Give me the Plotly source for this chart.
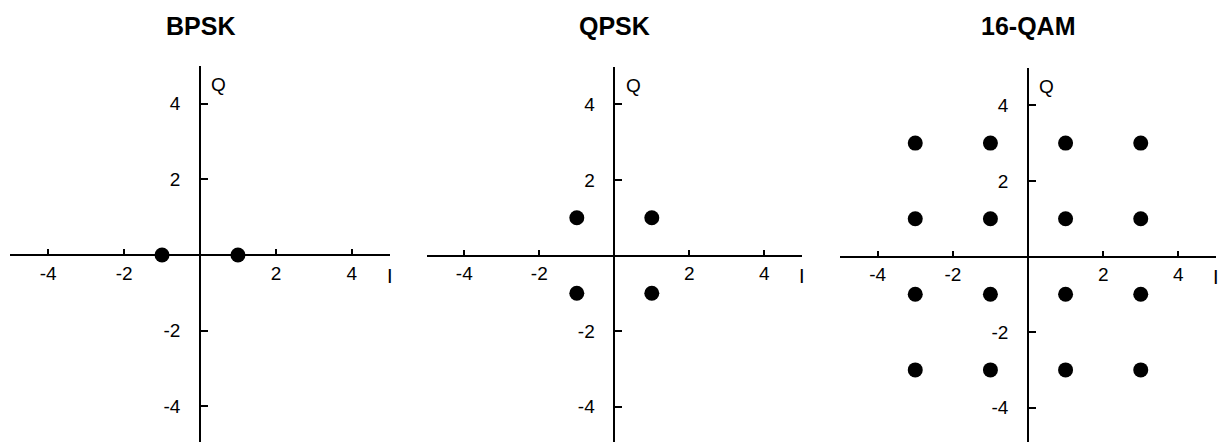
import plotly.graph_objects as go

# Constellation points (in-phase I, quadrature Q)
bpsk_i = [-1, 1]
bpsk_q = [0, 0]

qpsk_i = [-1, 1, -1, 1]
qpsk_q = [1, 1, -1, -1]

qam16_i = [-3, -1, 1, 3, -3, -1, 1, 3, -3, -1, 1, 3, -3, -1, 1, 3]
qam16_q = [3, 3, 3, 3, 1, 1, 1, 1, -1, -1, -1, -1, -3, -3, -3, -3]

titles = ["BPSK", "QPSK", "16-QAM"]
tick_vals = [-4, -2, 2, 4]
tick_text = ["-4", "-2", "2", "4"]

W, H = 1219, 442
UNIT_Y = 37.8

# Pixel layout of each panel: x of the Q axis, px per unit on I, y of the I axis
panels = [
    dict(cx=200.0, ux=37.96, cy=255.0, i=bpsk_i, q=bpsk_q),
    dict(cx=614.3, ux=37.5, cy=255.5, i=qpsk_i, q=qpsk_q),
    dict(cx=1028.0, ux=37.58, cy=256.5, i=qam16_i, q=qam16_q),
]

FONT = "Liberation Sans, Arial, sans-serif"

fig = go.Figure()
annotations = []
axes = {}

for k, (p, title) in enumerate(zip(panels, titles), start=1):
    xname = "xaxis" if k == 1 else f"xaxis{k}"
    yname = "yaxis" if k == 1 else f"yaxis{k}"
    xref = "x" if k == 1 else f"x{k}"
    yref = "y" if k == 1 else f"y{k}"

    x0 = (p["cx"] - 5 * p["ux"]) / W
    x1 = (p["cx"] + 5 * p["ux"]) / W
    top_px = p["cy"] - 5 * UNIT_Y
    y_bottom = -(H - p["cy"]) / UNIT_Y

    fig.add_trace(go.Scatter(
        x=p["i"], y=p["q"], mode="markers",
        marker=dict(size=15, color="black"),
        xaxis=xref, yaxis=yref, cliponaxis=False, hoverinfo="skip",
    ))

    # I axis drawn through Q = 0, ticks pointing up, labels below
    axes[xname] = go.layout.XAxis(
        domain=[x0, min(x1, 1.0)], range=[-5, 5],
        anchor="free", position=1 - p["cy"] / H,
        showline=True, linecolor="black", linewidth=2,
        showgrid=False, zeroline=False,
        ticks="inside", ticklen=5, tickwidth=1.5, tickcolor="black",
        tickmode="array", tickvals=tick_vals, ticktext=tick_text,
        tickfont=dict(size=19, family=FONT, color="black"),
        ticklabelstandoff=1,
        fixedrange=True,
    )
    # Q axis drawn through I = 0, ticks pointing right, labels on the left
    axes[yname] = go.layout.YAxis(
        domain=[0, 1 - top_px / H], range=[y_bottom, 5],
        anchor="free", position=p["cx"] / W,
        showline=True, linecolor="black", linewidth=1.5,
        showgrid=False, zeroline=False,
        ticks="inside", ticklen=7, tickwidth=1.5, tickcolor="black",
        tickmode="array", tickvals=tick_vals, ticktext=tick_text,
        tickfont=dict(size=19, family=FONT, color="black"),
        ticklabelstandoff=15,
        fixedrange=True,
    )

    annotations.append(dict(
        text=f"<b>{title}</b>", x=p["cx"] / W, y=1 - 25.5 / H,
        xref="paper", yref="paper", xanchor="center", yanchor="middle",
        showarrow=False, font=dict(size=25, family=FONT, color="black"),
    ))
    annotations.append(dict(
        text="Q", x=0.5, y=4.5, xref=xref, yref=yref,
        xanchor="center", yanchor="middle", showarrow=False,
        font=dict(size=19, family=FONT, color="black"),
    ))
    annotations.append(dict(
        text="I", x=5, y=-0.55, xref=xref, yref=yref,
        xanchor="center", yanchor="middle", showarrow=False,
        font=dict(size=20, family=FONT, color="black"),
    ))

fig.update_layout(
    width=W, height=H,
    margin=dict(l=0, r=0, t=0, b=0),
    paper_bgcolor="white", plot_bgcolor="white",
    showlegend=False,
    font=dict(family=FONT, color="black"),
    annotations=annotations,
    **axes,
)
fig.write_html("out.html")
